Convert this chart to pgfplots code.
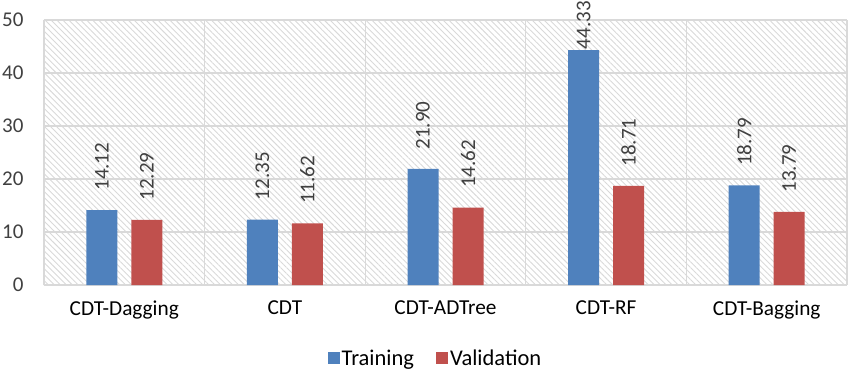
\documentclass[border=0pt]{standalone}
\usepackage{pgfplots}
\usepackage{pgfplotstable}
\pgfplotsset{compat=1.18}
\usepackage{fontspec}
\setmainfont{Carlito}
\usetikzlibrary{patterns.meta}
\definecolor{cblue}{HTML}{4F81BD}
\definecolor{cred}{HTML}{C0504D}
\definecolor{gridc}{HTML}{D9D9D9}
\definecolor{txt}{HTML}{404040}
\pgfplotstableread{
x y s
0 14.12 16
1 12.35 16
2 21.90 16
3 44.33 -2.5
4 18.79 16
}\training
\pgfplotstableread{
x y s
0 12.29 16
1 11.62 16
2 14.62 16
3 18.71 16
4 13.79 16
}\validation
\begin{document}
\begin{tikzpicture}
\begin{axis}[
  scale only axis, width=803pt, height=265pt,
  ymin=0, ymax=50, ytick={0,10,...,50},
  xmin=-0.5, xmax=4.5,
  xtick={0,1,2,3,4},
  xticklabels={CDT-Dagging,CDT,CDT-ADTree,CDT-RF,CDT-Bagging},
  minor xtick={-0.5,0.5,1.5,2.5,3.5,4.5},
  minor x grid style={gridc, line width=1.2pt},
  xminorgrids, ymajorgrids,
  major grid style={gridc, line width=1.2pt},
  axis line style={gridc, line width=1.2pt},
  axis x line*=bottom, axis y line*=left,
  tick style={draw=none},
  ticklabel style={font=\fontsize{21}{24}\selectfont, text=txt},
  yticklabel style={xshift=-17pt},
  xticklabel style={font=\fontsize{21.3}{24}\selectfont, text=black, yshift=-8pt},
  /pgf/number format/assume math mode=true,
  axis background/.style={pattern={Lines[angle=-45,distance=4.2pt,line width=0.9pt]}, pattern color=gridc},
  ybar=14pt, bar width=31pt,
  visualization depends on={\thisrow{s} \as \myshift},
  nodes near coords,
  nodes near coords style={rotate=90, anchor=west, font=\fontsize{21}{24}\selectfont, text=txt, /pgf/number format/fixed, /pgf/number format/fixed zerofill, /pgf/number format/precision=2, xshift=\myshift pt},
  legend style={at={(0.5,-0.23)}, xshift=-10pt, anchor=north, draw=none, fill=none, legend columns=2, font=\fontsize{22.5}{26}\selectfont, /tikz/every even column/.append style={column sep=20pt}},
  legend image code/.code={\fill[#1] (3pt,-5pt) rectangle (15pt,7pt);},
  clip=false,
]
\addplot[fill=cblue, draw=none] table[x=x, y=y] {\training};
\addplot[fill=cred, draw=none] table[x=x, y=y] {\validation};
\legend{Training, Validation}
\coordinate (sw) at (rel axis cs:0,0);
\coordinate (ne) at (rel axis cs:1,1);
\end{axis}
\pgfresetboundingbox
\useasboundingbox ([shift={(-44pt,-88pt)}]sw) rectangle ([shift={(3pt,20pt)}]ne);
\end{tikzpicture}
\end{document}
